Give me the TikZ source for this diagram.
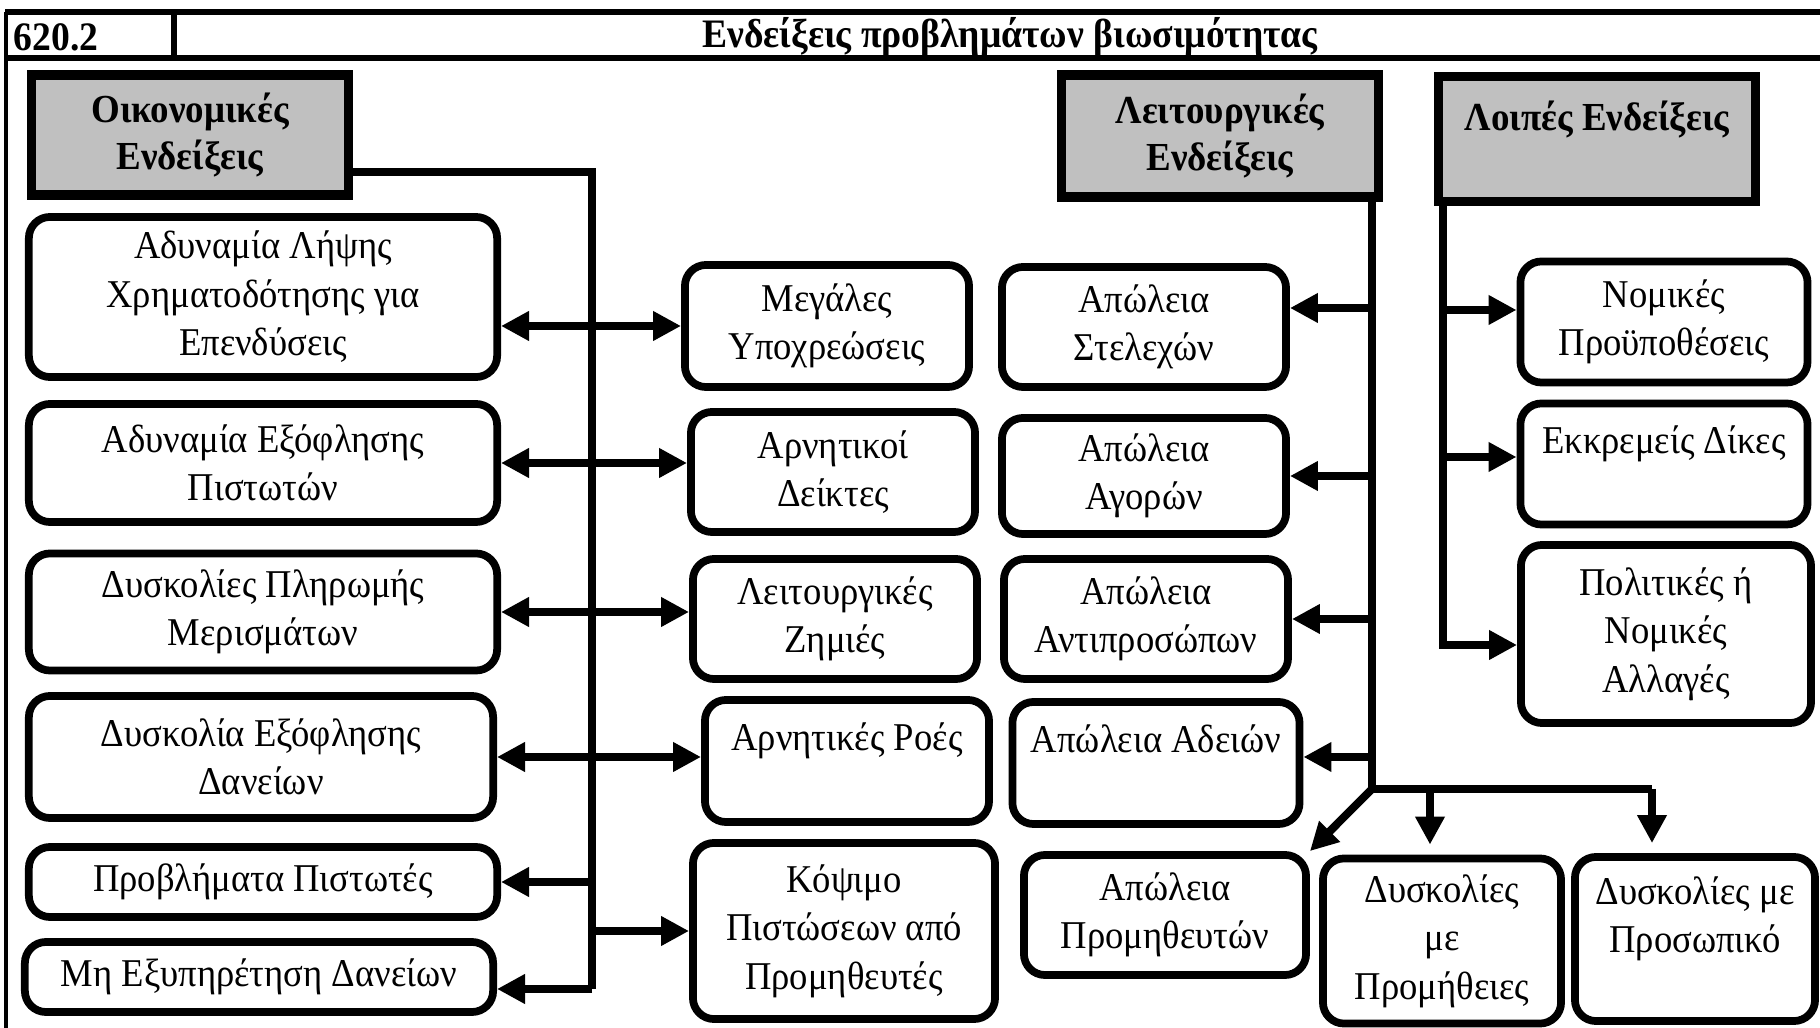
\documentclass[tikz,border=0pt]{standalone}
\usepackage{fontspec}
\setmainfont{Liberation Serif}[FakeStretch=0.93]
\usepackage{tikz}
\usetikzlibrary{arrows.meta,positioning,calc}
\definecolor{cInk}{HTML}{000000}
\definecolor{cHead}{HTML}{C0C0C0}
\tikzset{
  hbox/.style={draw=cInk,fill=cHead,line width=2.6pt,align=center,font=\bfseries\fontsize{11.3}{13.5}\selectfont,inner sep=2pt,text=cInk},
  ibox/.style={draw=cInk,fill=white,rounded corners=6pt,line width=2.2pt,align=center,inner sep=2pt,text=cInk},
  bus/.style={line width=2.3pt,color=cInk},
  arr/.style={-{Triangle[length=2.8mm,width=2.8mm]},line width=2.3pt,color=cInk},
  darr/.style={{Triangle[length=2.8mm,width=2.8mm]}-{Triangle[length=2.8mm,width=2.8mm]},line width=2.3pt,color=cInk},
  frm/.style={line width=1.2pt,color=cInk},
  hrule/.style={line width=1.7pt,color=cInk},
}

\begin{document}
\begin{tikzpicture}[x=0.01cm,y=-0.01cm,font=\fontsize{11.2}{13.8}\selectfont]
  \useasboundingbox (0,0) rectangle (1820,1028);
  % frame and header row
  \draw[frm] (6,1028) -- (6,12);
  \draw[hrule] (5,12) -- (1820,12);
  \draw[hrule] (5,58) -- (1820,58);
  \draw[hrule] (174,12) -- (174,58);
  \node[font=\bfseries\fontsize{11.5}{13}\selectfont,anchor=west,inner sep=0pt] (code) at (13,37) {620.2};
  \node[font=\bfseries\fontsize{11.5}{13}\selectfont,inner sep=0pt] (title) at (1010,37) {Ενδείξεις προβλημάτων βιωσιμότητας};

  % group heads
  \node[hbox,minimum width=3.16cm,minimum height=1.20cm] (econ) at (190,135) {Οικονομικές\\Ενδείξεις};
  \node[hbox,minimum width=3.16cm,minimum height=1.22cm] (oper) at (1220,136) {Λειτουργικές\\Ενδείξεις};
  \node[hbox,minimum width=3.16cm,minimum height=1.25cm] (other) at (1597,139) {Λοιπές Ενδείξεις\\\mbox{}};

  % economic indications
  \node[ibox,minimum width=4.68cm,minimum height=1.60cm] (l1) at (263,297) {Αδυναμία Λήψης\\Χρηματοδότησης για\\Επενδύσεις};
  \node[ibox,minimum width=4.68cm,minimum height=1.18cm] (l2) at (263,463) {Αδυναμία Εξόφλησης\\Πιστωτών};
  \node[ibox,minimum width=4.68cm,minimum height=1.17cm] (l3) at (263,612) {Δυσκολίες Πληρωμής\\Μερισμάτων};
  \node[ibox,minimum width=4.64cm,minimum height=1.22cm] (l4) at (261,757) {Δυσκολία Εξόφλησης\\Δανείων};
  \node[ibox,minimum width=4.68cm,minimum height=0.70cm] (l5) at (263,882) {Προβλήματα Πιστωτές};
  \node[ibox,minimum width=4.68cm,minimum height=0.70cm] (l6) at (259,977) {Μη Εξυπηρέτηση Δανείων};

  \node[ibox,minimum width=2.84cm,minimum height=1.22cm] (m1) at (827,326) {Μεγάλες\\Υποχρεώσεις};
  \node[ibox,minimum width=2.84cm,minimum height=1.20cm] (m2) at (833,472) {Αρνητικοί\\Δείκτες};
  \node[ibox,minimum width=2.84cm,minimum height=1.20cm] (m3) at (835,619) {Λειτουργικές\\Ζημιές};
  \node[ibox,minimum width=2.84cm,minimum height=1.22cm] (m4) at (847,761) {Αρνητικές Ροές\\\mbox{}};
  \node[ibox,minimum width=3.02cm,minimum height=1.76cm] (m5) at (844,931) {Κόψιμο\\Πιστώσεων από\\Προμηθευτές};

  % operational indications
  \node[ibox,minimum width=2.84cm,minimum height=1.20cm] (ap1) at (1144,327) {Απώλεια\\Στελεχών};
  \node[ibox,minimum width=2.84cm,minimum height=1.16cm] (ap2) at (1144,476) {Απώλεια\\Αγορών};
  \node[ibox,minimum width=2.84cm,minimum height=1.20cm] (ap3) at (1146,619) {Απώλεια\\Αντιπροσώπων};
  \node[ibox,minimum width=2.87cm,minimum height=1.22cm] (ap4) at (1156,763) {Απώλεια Αδειών\\\mbox{}};
  \node[ibox,minimum width=2.82cm,minimum height=1.20cm] (ap5) at (1165,915) {Απώλεια\\Προμηθευτών};
  \node[ibox,minimum width=2.38cm,minimum height=1.65cm] (dp) at (1442,941) {Δυσκολίες\\με\\Προμήθειες};
  \node[ibox,minimum width=2.40cm,minimum height=1.64cm] (ds) at (1695,939) {Δυσκολίες με\\Προσωπικό\\\mbox{}};

  % other indications
  \node[ibox,minimum width=2.87cm,minimum height=1.21cm] (lg1) at (1664,322) {Νομικές\\Προϋποθέσεις};
  \node[ibox,minimum width=2.87cm,minimum height=1.21cm] (lg2) at (1664,464) {Εκκρεμείς Δίκες\\\mbox{}};
  \node[ibox,minimum width=2.90cm,minimum height=1.78cm] (lg3) at (1666,634) {Πολιτικές ή\\Νομικές\\Αλλαγές};

  % economic connectors
  \coordinate (ebus) at (592,172);
  \coordinate (eend) at (592,989);
  \draw[bus] (econ.east |- ebus) -- (ebus) -- (eend);
  \draw[darr] (l1.east |- m1.west) -- (m1.west);
  \draw[darr] (l2.east) -- (l2.east -| m2.west);
  \draw[darr] (l3.east) -- (l3.east -| m3.west);
  \draw[darr] (l4.east) -- (l4.east -| m4.west);
  \draw[arr] (ebus |- l5.east) -- (l5.east);
  \draw[arr] (eend) -- (eend -| l6.east);
  \draw[arr] (ebus |- m5.west) -- (m5.west);

  % operational connectors
  \coordinate (obus) at (1372,789);
  \coordinate (odown) at (1430,789);
  \coordinate (oright) at (1652,789);
  \draw[bus] (obus |- oper.south) -- (obus) -- (oright);
  \draw[arr] ([yshift=1.9mm]obus |- ap1.east) -- ([yshift=1.9mm]ap1.east);
  \draw[arr] (obus |- ap2.east) -- (ap2.east);
  \draw[arr] (obus |- ap3.east) -- (ap3.east);
  \draw[arr] ([yshift=0.6mm]obus |- ap4.east) -- ([yshift=0.6mm]ap4.east);
  \draw[arr] (obus) -- (ap5.north east);
  \draw[arr,shorten >=1mm] (odown) -- (odown |- dp.north);
  \draw[arr,shorten >=1mm] (oright) -- (oright |- ds.north);

  % other connectors
  \coordinate (xbend) at (1443,645);
  \draw[arr] (other.south -| xbend) -- (xbend) -- (xbend -| lg3.west);
  \draw[arr] ([yshift=1.2mm]xbend |- lg1.west) -- ([yshift=1.2mm]lg1.west);
  \draw[arr] ([yshift=0.7mm]xbend |- lg2.west) -- ([yshift=0.7mm]lg2.west);
\end{tikzpicture}
\end{document}
